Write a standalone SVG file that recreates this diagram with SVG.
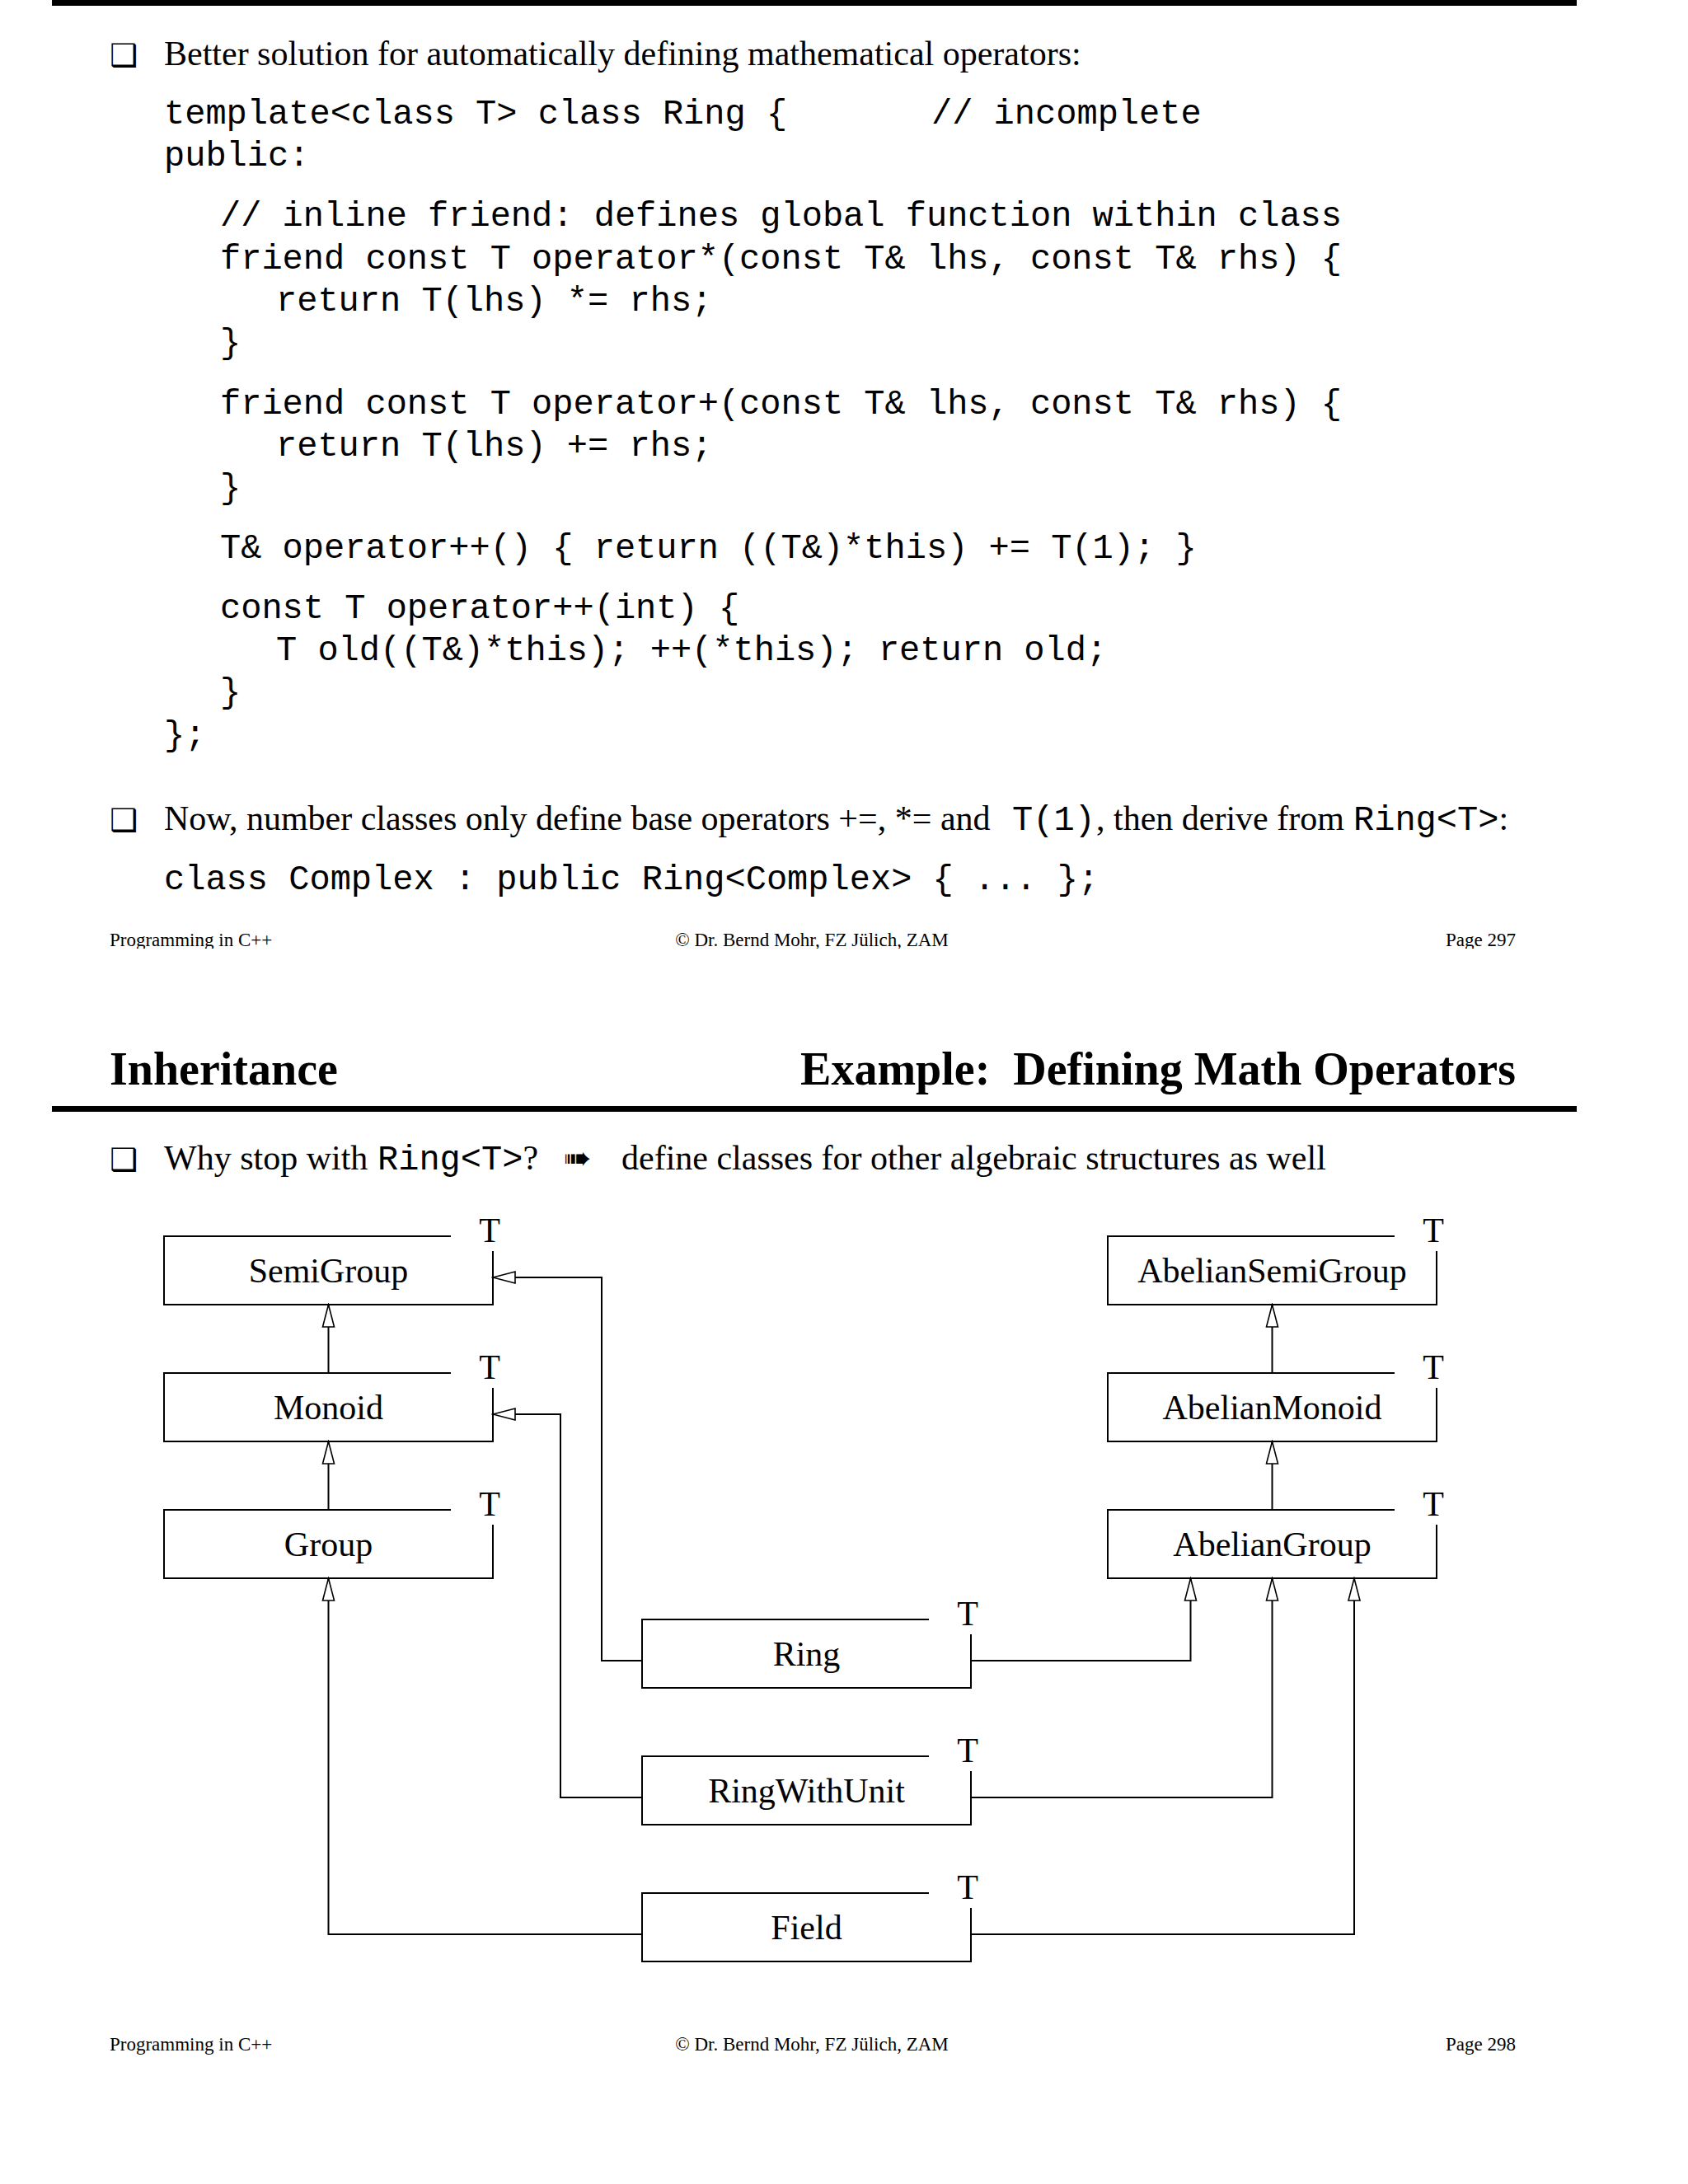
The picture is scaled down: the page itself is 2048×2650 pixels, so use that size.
<svg xmlns="http://www.w3.org/2000/svg" width="2048" height="2650" viewBox="0 0 2048 2650">
<style>
.body{font-family:"Liberation Serif","Times New Roman",serif;font-size:42px;fill:#000}
.mono{font-family:"Liberation Mono","Courier New",monospace;font-size:42px;fill:#000}
.head{font-family:"Liberation Serif","Times New Roman",serif;font-size:56px;font-weight:bold;fill:#000}
.foot{font-family:"Liberation Serif","Times New Roman",serif;font-size:23px;fill:#000}
.bul{font-family:"DejaVu Sans",sans-serif;font-size:38px;fill:#000}
.arr{font-family:"DejaVu Sans",sans-serif;font-size:40px;fill:#000}
.name{font-family:"Liberation Serif","Times New Roman",serif;font-size:42px;fill:#000;text-anchor:middle}
.tp{font-family:"Liberation Serif","Times New Roman",serif;font-size:42px;fill:#000;text-anchor:middle}
.box{fill:none;stroke:#000;stroke-width:2}
.edge{fill:none;stroke:#000;stroke-width:2;marker-end:url(#tri)}
</style>
<defs>
<marker id="tri" markerUnits="userSpaceOnUse" markerWidth="30" markerHeight="18" viewBox="0 0 30 18" refX="28" refY="9" orient="auto">
<path d="M1,2 L28,9 L1,16 Z" fill="#fff" stroke="#000" stroke-width="1.6"/>
</marker>
<clipPath id="clipTop"><rect x="0" y="0" width="2048" height="1151"/></clipPath>
</defs>
<rect x="0" y="0" width="2048" height="2650" fill="#fff"/>

<g id="page1">
<rect x="63" y="0" width="1850" height="7" fill="#000"/>
<text class="bul" x="133" y="80">❑</text>
<text class="body" x="199" y="79">Better solution for automatically defining mathematical operators:</text>
<g id="code">
<text class="mono" x="199" y="150">template&lt;class T&gt; class Ring {<tspan x="1130">// incomplete</tspan></text>
<text class="mono" x="199" y="201">public:</text>
<text class="mono" x="267" y="274">// inline friend: defines global function within class</text>
<text class="mono" x="267" y="326">friend const T operator*(const T&amp; lhs, const T&amp; rhs) {</text>
<text class="mono" x="335" y="377">return T(lhs) *= rhs;</text>
<text class="mono" x="267" y="428">}</text>
<text class="mono" x="267" y="502">friend const T operator+(const T&amp; lhs, const T&amp; rhs) {</text>
<text class="mono" x="335" y="553">return T(lhs) += rhs;</text>
<text class="mono" x="267" y="604">}</text>
<text class="mono" x="267" y="677">T&amp; operator++() { return ((T&amp;)*this) += T(1); }</text>
<text class="mono" x="267" y="750">const T operator++(int) {</text>
<text class="mono" x="335" y="801">T old((T&amp;)*this); ++(*this); return old;</text>
<text class="mono" x="267" y="852">}</text>
<text class="mono" x="199" y="904">};</text>
</g>
<text class="bul" x="133" y="1008">❑</text>
<text class="body" x="199" y="1007">Now, number classes only define base operators +=, *= and <tspan class="mono" x="1228">T(1)</tspan><tspan x="1330">, then derive from </tspan><tspan class="mono" x="1642">Ring&lt;T&gt;</tspan>:</text>
<text class="mono" x="199" y="1079">class Complex : public Ring&lt;Complex&gt; { ... };</text>
<g clip-path="url(#clipTop)">
<text class="foot" x="133" y="1148">Programming in C++</text>
<text class="foot" x="985" y="1148" text-anchor="middle">© Dr. Bernd Mohr, FZ Jülich, ZAM</text>
<text class="foot" x="1839" y="1148" text-anchor="end">Page 297</text>
</g>
</g>

<g id="page2">
<text class="head" x="133" y="1316">Inheritance</text>
<text class="head" x="1839" y="1316" text-anchor="end" xml:space="preserve">Example:  Defining Math Operators</text>
<rect x="63" y="1342" width="1850" height="7" fill="#000"/>
<text class="bul" x="133" y="1420">❑</text>
<text class="body" x="199" y="1419">Why stop with <tspan class="mono" x="458">Ring&lt;T&gt;</tspan>?<tspan class="arr" x="684">➠</tspan><tspan x="754">define classes for other algebraic structures as well</tspan></text>

<g id="connectors">
<path class="edge" d="M398.5,1666 V1583"/>
<path class="edge" d="M398.5,1832 V1749"/>
<path class="edge" d="M1543.5,1666 V1583"/>
<path class="edge" d="M1543.5,1832 V1749"/>
<path class="edge" d="M779,2015 H730 V1550 H598"/>
<path class="edge" d="M1178,2015 H1444.5 V1915"/>
<path class="edge" d="M779,2181 H680 V1716 H598"/>
<path class="edge" d="M1178,2181 H1543.5 V1915"/>
<path class="edge" d="M779,2347 H398.5 V1915"/>
<path class="edge" d="M1178,2347 H1643 V1915"/>
</g>

<g id="SemiGroup">
<path class="box" d="M547,1500 H199 V1583 H598 V1518"/>
<text class="tp" x="594" y="1507">T</text>
<text class="name" x="398.5" y="1556">SemiGroup</text>
</g>
<g id="Monoid">
<path class="box" d="M547,1666 H199 V1749 H598 V1684"/>
<text class="tp" x="594" y="1673">T</text>
<text class="name" x="398.5" y="1722">Monoid</text>
</g>
<g id="Group">
<path class="box" d="M547,1832 H199 V1915 H598 V1850"/>
<text class="tp" x="594" y="1839">T</text>
<text class="name" x="398.5" y="1888">Group</text>
</g>
<g id="AbelianSemiGroup">
<path class="box" d="M1692,1500 H1344 V1583 H1743 V1518"/>
<text class="tp" x="1739" y="1507">T</text>
<text class="name" x="1543.5" y="1556">AbelianSemiGroup</text>
</g>
<g id="AbelianMonoid">
<path class="box" d="M1692,1666 H1344 V1749 H1743 V1684"/>
<text class="tp" x="1739" y="1673">T</text>
<text class="name" x="1543.5" y="1722">AbelianMonoid</text>
</g>
<g id="AbelianGroup">
<path class="box" d="M1692,1832 H1344 V1915 H1743 V1850"/>
<text class="tp" x="1739" y="1839">T</text>
<text class="name" x="1543.5" y="1888">AbelianGroup</text>
</g>
<g id="Ring">
<path class="box" d="M1127,1965 H779 V2048 H1178 V1983"/>
<text class="tp" x="1174" y="1972">T</text>
<text class="name" x="978.5" y="2021">Ring</text>
</g>
<g id="RingWithUnit">
<path class="box" d="M1127,2131 H779 V2214 H1178 V2149"/>
<text class="tp" x="1174" y="2138">T</text>
<text class="name" x="978.5" y="2187">RingWithUnit</text>
</g>
<g id="Field">
<path class="box" d="M1127,2297 H779 V2380 H1178 V2315"/>
<text class="tp" x="1174" y="2304">T</text>
<text class="name" x="978.5" y="2353">Field</text>
</g>

<text class="foot" x="133" y="2488">Programming in C++</text>
<text class="foot" x="985" y="2488" text-anchor="middle">© Dr. Bernd Mohr, FZ Jülich, ZAM</text>
<text class="foot" x="1839" y="2488" text-anchor="end">Page 298</text>
</g>
</svg>
